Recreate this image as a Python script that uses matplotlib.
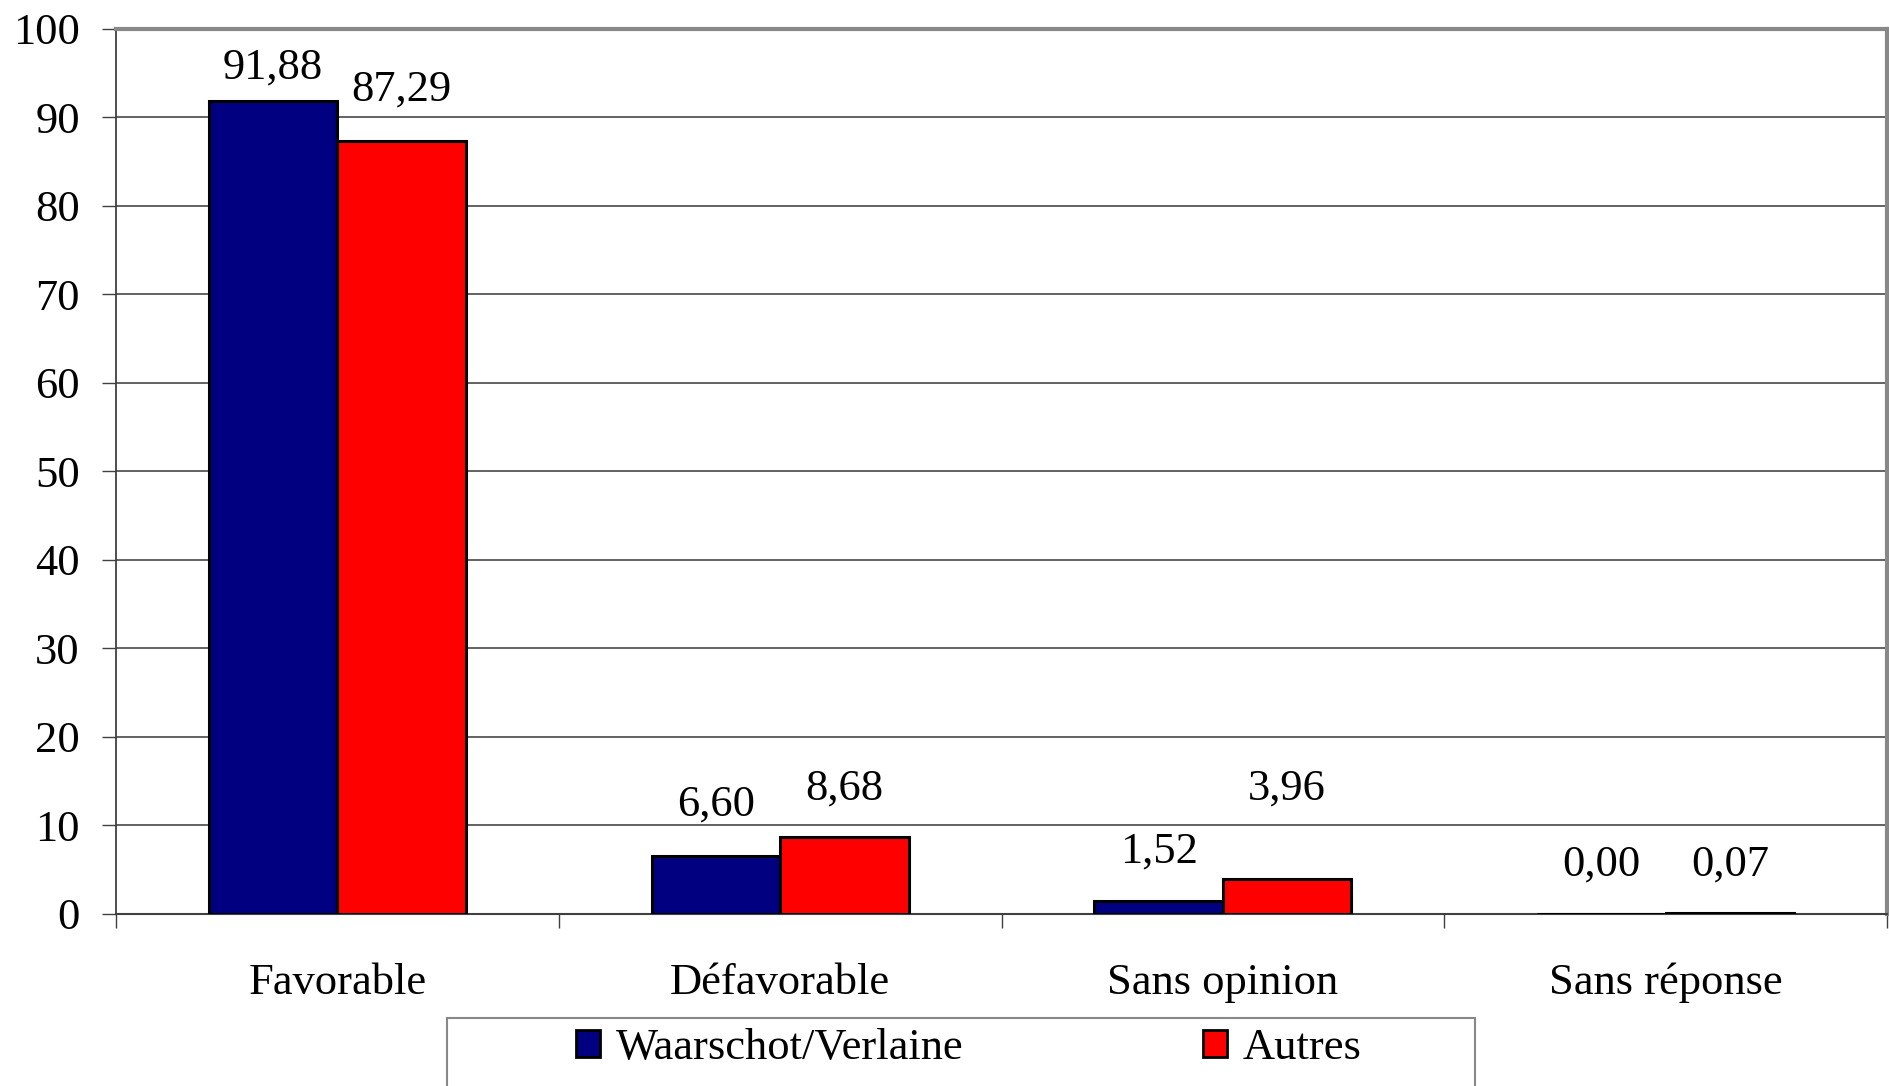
import numpy as np
import matplotlib
matplotlib.use("Agg")
import matplotlib.pyplot as plt
from matplotlib.patches import Rectangle, Patch

categories = ["Favorable", "Défavorable", "Sans opinion", "Sans réponse"]
waarschot = [91.88, 6.60, 1.52, 0.00]
autres = [87.29, 8.68, 3.96, 0.07]
series_names = ["Waarschot/Verlaine", "Autres"]
yticks = [0, 10, 20, 30, 40, 50, 60, 70, 80, 90, 100]

# decalage des etiquettes (pixels) comme dans le graphique Excel
off_blue = [33, 51, 49, 49]
off_red = [52, 49, 90, 49]

plt.rcParams["font.family"] = ["Liberation Serif", "DejaVu Serif"]
fs = 32

fig = plt.figure(figsize=(18.9, 10.86), dpi=100)
ax = fig.add_axes([0.0614, 0.1584, 0.937, 0.815])

x = np.arange(len(categories))
w = 0.29
ax.bar(x - w / 2, waarschot, w, color="#000080", edgecolor="black", linewidth=2.2, zorder=3)
ax.bar(x + w / 2, autres, w, color="#FF0000", edgecolor="black", linewidth=2.2, zorder=3)

def fmt(v):
    return f"{v:.2f}".replace(".", ",")

for i in range(len(categories)):
    ax.annotate(fmt(waarschot[i]), (x[i] - w / 2, waarschot[i]), xytext=(0, off_blue[i]),
                textcoords="offset pixels", ha="center", va="center", fontsize=fs)
    ax.annotate(fmt(autres[i]), (x[i] + w / 2, autres[i]), xytext=(0, off_red[i]),
                textcoords="offset pixels", ha="center", va="center", fontsize=fs)

ax.set_xlim(-0.5, len(categories) - 0.5)
ax.set_ylim(0, 100)
ax.set_yticks(yticks)
ax.set_yticklabels([str(t) for t in yticks], fontsize=fs)
ax.yaxis.grid(True, color="#383838", linewidth=1.1, zorder=0)
ax.set_axisbelow(True)

ax.set_xticks(x)
ax.set_xticklabels(categories, fontsize=fs)
ax.set_xticks(np.arange(len(categories) + 1) - 0.5, minor=True)
ax.tick_params(axis="x", which="major", length=0, pad=35)
ax.tick_params(axis="x", which="minor", length=10, width=1, color="#404040", direction="out")
ax.tick_params(axis="y", length=10, width=1, color="#404040", direction="out", pad=16)

ax.spines["left"].set_color("#404040")
ax.spines["left"].set_linewidth(1.3)
ax.spines["bottom"].set_color("#404040")
ax.spines["bottom"].set_linewidth(1.5)
ax.spines["top"].set_color("#888888")
ax.spines["top"].set_linewidth(3)
ax.spines["right"].set_color("#888888")
ax.spines["right"].set_linewidth(3)

# cadre de la legende (coupe en bas comme dans l'original)
fig.patches.append(Rectangle((447 / 1890, -0.05), 1028 / 1890, 0.05 + 1 - 1018 / 1086,
                             transform=fig.transFigure, facecolor="white",
                             edgecolor="#888888", linewidth=1.5))

colors = ["#000080", "#FF0000"]
leg_x = [576 / 1890, 1203 / 1890]
for name, c, lx in zip(series_names, colors, leg_x):
    fig.legend(handles=[Patch(facecolor=c, edgecolor="black", linewidth=2)], labels=[name],
               loc="center left", bbox_to_anchor=(lx, 1 - 1048 / 1086), frameon=False,
               fontsize=fs, borderpad=0, borderaxespad=0, handlelength=0.55,
               handleheight=0.55, handletextpad=0.35)

fig.savefig("out.png", dpi=100)
